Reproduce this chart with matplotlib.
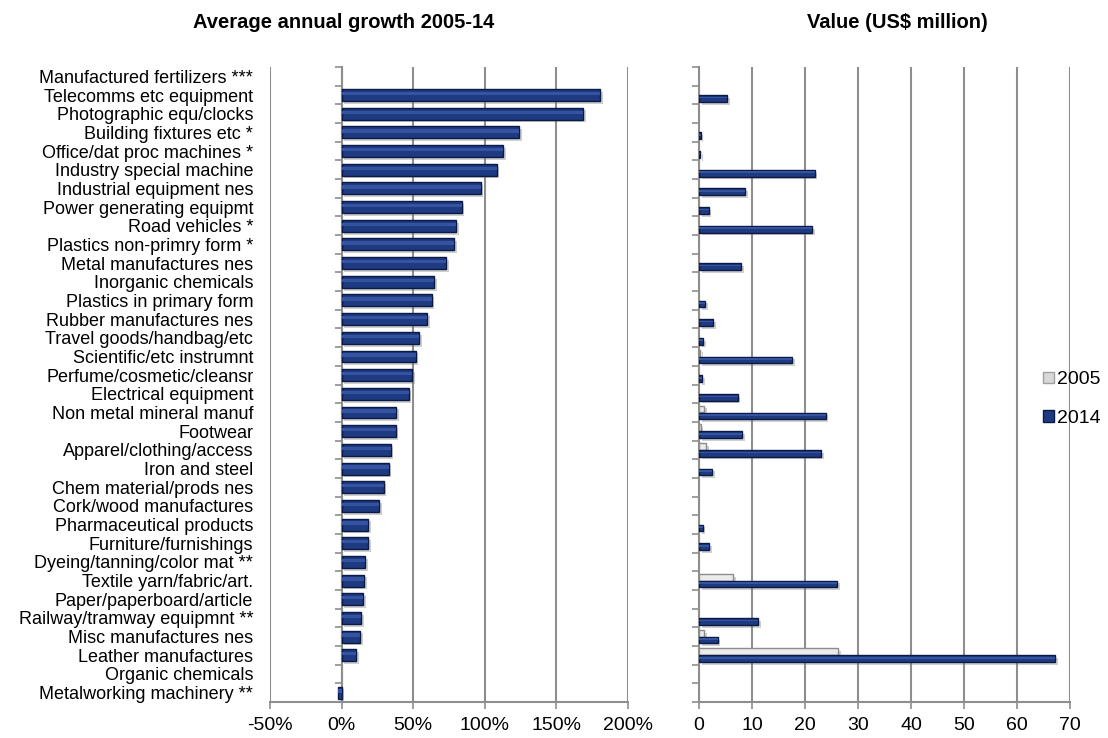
import matplotlib
matplotlib.use("Agg")
import matplotlib.pyplot as plt
import matplotlib.patheffects as pe
from matplotlib.patches import Patch
import numpy as np

plt.rcParams['font.family'] = ['Liberation Sans', 'DejaVu Sans']

categories = [
    "Manufactured fertilizers ***", "Telecomms etc equipment", "Photographic equ/clocks",
    "Building fixtures etc *", "Office/dat proc machines *", "Industry special machine",
    "Industrial equipment nes", "Power generating equipmt", "Road vehicles *",
    "Plastics non-primry form *", "Metal manufactures nes", "Inorganic chemicals",
    "Plastics in primary form", "Rubber manufactures nes", "Travel goods/handbag/etc",
    "Scientific/etc instrumnt", "Perfume/cosmetic/cleansr", "Electrical equipment",
    "Non metal mineral manuf", "Footwear", "Apparel/clothing/access", "Iron and steel",
    "Chem material/prods nes", "Cork/wood manufactures", "Pharmaceutical products",
    "Furniture/furnishings", "Dyeing/tanning/color mat **", "Textile yarn/fabric/art.",
    "Paper/paperboard/article", "Railway/tramway equipmnt **", "Misc manufactures nes",
    "Leather manufactures", "Organic chemicals", "Metalworking machinery **",
]

growth_pct = [
    0, 180.4, 168.7, 124.0, 112.9, 108.2, 97.0, 83.8, 79.8, 78.4, 72.8, 64.4,
    62.8, 59.8, 54.0, 51.7, 49.3, 46.8, 37.9, 37.7, 34.2, 32.8, 29.3, 26.0,
    18.4, 18.4, 16.5, 15.6, 14.9, 13.7, 12.8, 10.2, 0, -2.3,
]

value_2005 = [
    0, 0, 0, 0, 0, 0, 0, 0, 0, 0, 0, 0, 0, 0, 0, 0.2, 0, 0, 1.0, 0.3, 1.3, 0,
    0, 0, 0, 0, 0, 6.5, 0, 0, 0.9, 26.2, 0, 0,
]

value_2014 = [
    0, 5.3, 0, 0.3, 0.2, 21.8, 8.7, 1.8, 21.3, 0, 7.9, 0, 1.1, 2.7, 0.8, 17.5,
    0.6, 7.3, 23.9, 8.1, 23.0, 2.5, 0, 0, 0.7, 1.9, 0, 26.0, 0, 11.2, 3.5, 67.2,
    0, 0,
]

left_ticks = [-50, 0, 50, 100, 150, 200]
left_ticklabels = ["-50%", "0%", "50%", "100%", "150%", "200%"]
right_ticks = [0, 10, 20, 30, 40, 50, 60, 70]
series_names = ["2005", "2014"]
titles = ["Average annual growth 2005-14", "Value (US$ million)"]

W, H = 1108, 738
fig = plt.figure(figsize=(W / 100, H / 100), dpi=100)

navy = '#1E3A80'
navy_hi = '#3553A0'
navy_edge = '#0B1A44'
gray_face = '#EBEBEB'
gray_edge = '#8C8C8C'
grid_c = '#8E8E8E'

shadow = [pe.SimplePatchShadow(offset=(2, -2), shadow_rgbFace='#777777', alpha=0.35), pe.Normal()]

n = len(categories)
y = np.arange(n)


def style_axes(ax, xlim, ticks, ticklabels):
    ax.set_xlim(*xlim)
    ax.set_ylim(n - 0.5, -0.5)
    ax.set_xticks(ticks)
    ax.set_xticklabels(ticklabels, fontsize=14)
    ax.tick_params(axis='x', length=5, width=1.2, color=grid_c, pad=6)
    ax.grid(axis='x', color=grid_c, linewidth=1.5)
    ax.set_axisbelow(True)
    for s in ['top', 'right', 'left']:
        ax.spines[s].set_visible(False)
    ax.spines['bottom'].set_color(grid_c)
    ax.spines['bottom'].set_linewidth(1.5)


def nonzero(vals):
    v = np.asarray(vals, dtype=float)
    idx = np.nonzero(v)[0]
    return idx, v[idx]


# ---------------- Left chart ----------------
axL = fig.add_axes([270 / W, 1 - 702 / H, 358 / W, 635 / H])
style_axes(axL, (-50, 200), left_ticks, left_ticklabels)
iL, vL = nonzero(growth_pct)
axL.barh(iL, vL, height=0.64, color=navy, edgecolor=navy_edge, linewidth=1.0,
         path_effects=shadow, zorder=3)
axL.barh(iL - 0.08, vL, height=0.18, color=navy_hi, linewidth=0, zorder=4)
axL.set_yticks(y)
axL.set_yticklabels(categories, fontsize=13)
axL.tick_params(axis='y', length=0, pad=12)
# vertical category axis at 0%
x0 = (0 - (-50)) / 250
secL = axL.secondary_yaxis(x0)
secL.set_yticks(np.arange(n + 1) - 0.5)
secL.set_yticklabels([])
secL.tick_params(axis='y', length=5, width=1.2, color=grid_c, direction='out')
secL.spines['left'].set_color(grid_c)
secL.spines['left'].set_linewidth(1.5)

# ---------------- Right chart ----------------
axR = fig.add_axes([699 / W, 1 - 702 / H, 371 / W, 635 / H])
style_axes(axR, (0, 70), right_ticks, [str(t) for t in right_ticks])
off = 0.185
hb = 0.36
i05, v05 = nonzero(value_2005)
i14, v14 = nonzero(value_2014)
axR.barh(i05 - off, v05, height=hb, color=gray_face, edgecolor=gray_edge, linewidth=1.0,
         path_effects=shadow, zorder=3, label=series_names[0])
axR.barh(i14 + off, v14, height=hb, color=navy, edgecolor=navy_edge, linewidth=1.0,
         path_effects=shadow, zorder=3, label=series_names[1])
axR.barh(i14 + off - 0.05, v14, height=0.09, color=navy_hi, linewidth=0, zorder=4)
axR.set_yticks(np.arange(n + 1) - 0.5)
axR.set_yticklabels([])
axR.tick_params(axis='y', length=5, width=1.2, color=grid_c, direction='out')
axR.spines['left'].set_visible(True)
axR.spines['left'].set_color(grid_c)
axR.spines['left'].set_linewidth(1.5)

fig.text(344 / W, 1 - 23 / H, titles[0], fontsize=14.5, fontweight='bold',
         ha='center', va='center')
fig.text(897 / W, 1 - 23 / H, titles[1], fontsize=14.5, fontweight='bold',
         ha='center', va='center')

handles = [Patch(facecolor='#D8D8D8', edgecolor='#A0A0A0', label=series_names[0]),
           Patch(facecolor=navy, edgecolor=navy_edge, label=series_names[1])]
fig.legend(handles=handles, loc='center left', bbox_to_anchor=(1043 / W, 1 - 399 / H),
           frameon=False, fontsize=14, handlelength=0.55, handleheight=0.55,
           handletextpad=0.15, labelspacing=1.1, borderpad=0, borderaxespad=0)

fig.savefig("out.png", dpi=100)
